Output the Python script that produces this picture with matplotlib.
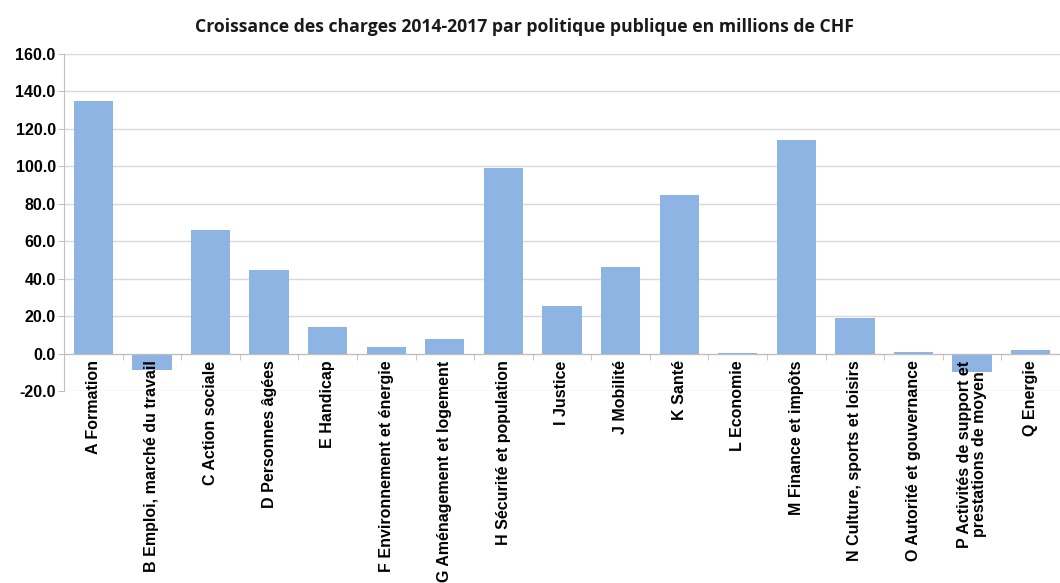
import numpy as np
import matplotlib.pyplot as plt

categories = [
    "A Formation", "B Emploi, marché du travail", "C Action sociale",
    "D Personnes âgées", "E Handicap", "F Environnement et énergie",
    "G Aménagement et logement", "H Sécurité et population", "I Justice",
    "J Mobilité", "K Santé", "L Economie", "M Finance et impôts",
    "N Culture, sports et loisirs", "O Autorité et gouvernance",
    "P Activités de support et\nprestations de moyen", "Q Energie",
]
values = [135.0, -9.0, 66.0, 44.5, 14.2, 3.5, 7.6, 99.2, 25.5,
          46.0, 84.7, 0.5, 113.8, 19.0, 1.0, -10.0, 2.0]
y_ticks = [-20, 0, 20, 40, 60, 80, 100, 120, 140, 160]

plt.rcParams['font.family'] = ['Liberation Sans', 'DejaVu Sans']

fig = plt.figure(figsize=(10.6, 5.83), dpi=100)
ax = fig.add_axes([64 / 1060, 1 - 391 / 583, 1 - 64 / 1060, (391 - 54) / 583])

x = np.arange(len(categories))
ax.bar(x, values, width=0.67, color='#8db4e2', zorder=2)

ax.set_xlim(-0.5, len(categories) - 0.5)
ax.set_ylim(-20, 160)
ax.set_yticks(y_ticks)
ax.set_yticklabels([f"{v:.1f}" for v in y_ticks], fontsize=11.5, fontweight='bold')
ax.yaxis.grid(True, color='#d9d9d9', linewidth=1, zorder=0)
ax.yaxis.set_zorder(0.5)
ax.tick_params(axis='y', length=4, color='#bfbfbf', pad=2)

# category axis sits at zero, labels drawn over the negative bars
ax.spines['bottom'].set_position(('data', 0))
ax.spines['bottom'].set_color('#bfbfbf')
ax.spines['left'].set_color('#bfbfbf')
ax.spines['top'].set_visible(False)
ax.spines['right'].set_visible(False)
ax.xaxis.set_zorder(3)

ax.set_xticks(x)
ax.set_xticklabels(categories, rotation=90, fontsize=11.5, fontweight='bold',
                   va='top', ha='center', multialignment='center',
                   linespacing=1.0)
ax.tick_params(axis='x', which='major', length=0, pad=5)
ax.set_xticks(np.arange(-0.5, len(categories), 1), minor=True)
ax.tick_params(axis='x', which='minor', length=4, color='#bfbfbf')

fig.text(0.495, 1 - 27 / 583, "Croissance des charges 2014-2017 par politique publique en millions de CHF",
         ha='center', va='center', fontsize=12.7, fontweight='bold',
         family=['Open Sans', 'DejaVu Sans'], color='#1a1a1a')

plt.savefig('out.png', dpi=100)
